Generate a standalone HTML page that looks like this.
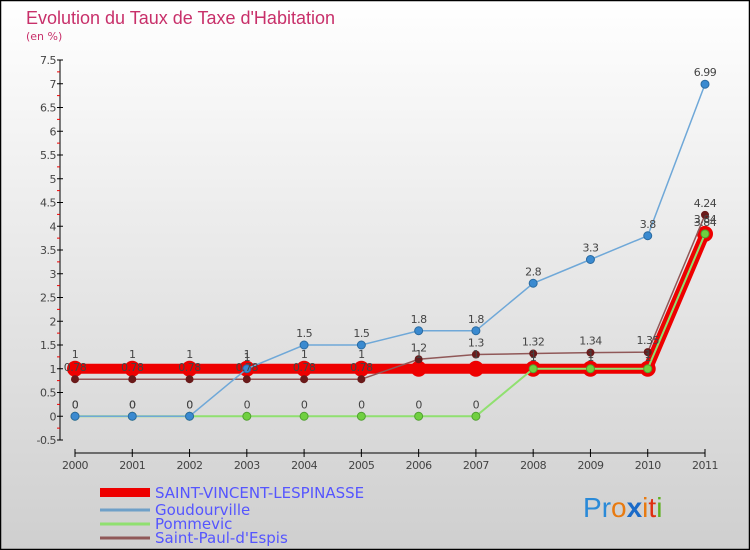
<!DOCTYPE html>
<html><head><meta charset="utf-8"><style>
body{margin:0;width:750px;height:550px;overflow:hidden}
svg{display:block;font-family:"DejaVu Sans","Liberation Sans",sans-serif}
</style></head><body>
<svg id="chart" width="750" height="550" viewBox="0 0 750 550" xmlns="http://www.w3.org/2000/svg">
<defs><linearGradient id="bg" x1="0" y1="0" x2="0" y2="1"><stop offset="0" stop-color="#ffffff"/><stop offset="1" stop-color="#cfcfcf"/></linearGradient></defs>
<rect x="0.5" y="0.5" width="749" height="549" fill="url(#bg)" stroke="#000" stroke-width="1.5"/>
<text x="26" y="24" font-size="18" fill="#c8306a" font-family="Liberation Sans, sans-serif">Evolution du Taux de Taxe d'Habitation</text>
<text x="26" y="40" font-size="11" fill="#c8306a">(en %)</text>
<g id="axes"></g>
<g id="series"></g>
<g id="legend">
<rect x="100" y="488" width="50" height="9" fill="#e00"/>
<text x="155" y="498" font-size="15" fill="#5555ff">SAINT-VINCENT-LESPINASSE</text>
<line x1="100" y1="510" x2="150" y2="510" stroke="#6fa0c8" stroke-width="3"/>
<text x="155" y="515" font-size="15" fill="#5555ff">Goudourville</text>
<line x1="100" y1="524" x2="150" y2="524" stroke="#90e070" stroke-width="3"/>
<text x="155" y="529" font-size="15" fill="#5555ff">Pommevic</text>
<line x1="100" y1="538" x2="150" y2="538" stroke="#905858" stroke-width="3"/>
<text x="155" y="543" font-size="15" fill="#5555ff">Saint-Paul-d'Espis</text>
</g>
<text x="583" y="517" font-size="28" font-family="Liberation Sans, sans-serif"><tspan fill="#2a8ad8">P</tspan><tspan fill="#2a8ad8">r</tspan><tspan fill="#e87a10">o</tspan><tspan fill="#1a6ac8" font-weight="bold">x</tspan><tspan fill="#e87a10">i</tspan><tspan fill="#e03010">t</tspan><tspan fill="#60b020">i</tspan></text>
</svg>
<script>
const years=[2000,2001,2002,2003,2004,2005,2006,2007,2008,2009,2010,2011];
const yTicks=[-0.5,0,0.5,1,1.5,2,2.5,3,3.5,4,4.5,5,5.5,6,6.5,7,7.5];
const svlValues=[1,1,1,1,1,1,1,1,1,1,1,3.84];
const goudValues=[0,0,0,1,1.5,1.5,1.8,1.8,2.8,3.3,3.8,6.99];
const pommValues=[0,0,0,0,0,0,0,0,1,1,1,3.84];
const spValues=[0.78,0.78,0.78,0.78,0.78,0.78,1.2,1.3,1.32,1.34,1.35,4.24];
const NS="http://www.w3.org/2000/svg";
function X(i){return 75+i*(630/11);}
function Y(v){return 416.25-v*47.5;}
function mk(tag,attrs,parent,txt){const e=document.createElementNS(NS,tag);for(const k in attrs)e.setAttribute(k,attrs[k]);if(txt!==undefined)e.textContent=txt;parent.appendChild(e);return e;}
const axes=document.getElementById('axes');
let e;
e=mk('line',{x1:60,y1:Y(7.5),x2:60,y2:Y(-0.5),stroke:'#000','stroke-width':1},axes);


yTicks.forEach(function(t,i){
  e=mk('line',{x1:57,y1:Y(t),x2:63,y2:Y(t),stroke:'#000'},axes);
  
  
  if(i<yTicks.length-1){e=mk('line',{x1:57,y1:Y(t+0.25),x2:60,y2:Y(t+0.25),stroke:'#e00'},axes);
  
  }
  e=mk('text',{x:56,y:Y(t)+4,'font-size':11,fill:'#444','text-anchor':'end','letter-spacing':'-0.5'},axes,String(t));
  
  
});
e=mk('line',{x1:75,y1:453,x2:705,y2:453,stroke:'#000'},axes);


years.forEach(function(yr,i){
  e=mk('line',{x1:X(i),y1:449,x2:X(i),y2:457,stroke:'#000'},axes);
  
  
  e=mk('text',{x:X(i),y:469,'font-size':11,fill:'#444','text-anchor':'middle','letter-spacing':'-0.5'},axes,String(yr));
  
  
});
const sg=document.getElementById('series');
function pts(vals){return vals.map(function(v,i){return X(i)+','+Y(v);}).join(' ');}
function labels(vals,name,dy){vals.forEach(function(v,i){e=mk('text',{x:X(i),y:Y(v)+dy,'font-size':11,fill:'#444','text-anchor':'middle','letter-spacing':'-0.5'},sg,String(v));

});}
// Saint-Vincent (thick red)
e=mk('polyline',{points:pts(svlValues),fill:'none',stroke:'#e00','stroke-width':10},sg);


svlValues.forEach(function(v,i){e=mk('circle',{cx:X(i),cy:Y(v),r:8,fill:'#e00'},sg);

});
// Pommevic
e=mk('polyline',{points:pts(pommValues),fill:'none',stroke:'#90e070','stroke-width':2},sg);


pommValues.forEach(function(v,i){e=mk('circle',{cx:X(i),cy:Y(v),r:4,fill:'#70d040',stroke:'#50a030'},sg);

});
// Saint-Paul
e=mk('polyline',{points:pts(spValues),fill:'none',stroke:'#905858','stroke-width':1.5},sg);


spValues.forEach(function(v,i){e=mk('circle',{cx:X(i),cy:Y(v),r:4,fill:'#6a1a1a'},sg);

});
// Goudourville
e=mk('polyline',{points:pts(goudValues),fill:'none',stroke:'#6fa8d8','stroke-width':1.5},sg);


goudValues.forEach(function(v,i){e=mk('circle',{cx:X(i),cy:Y(v),r:4,fill:'#3a8ad0',stroke:'#2a6aa0'},sg);

});
labels(svlValues,'saint-vincent',-11);
labels(pommValues,'pommevic',-8);
labels(spValues,'saint-paul',-8);
labels(goudValues,'goudourville',-8);
</script>
</body></html>
